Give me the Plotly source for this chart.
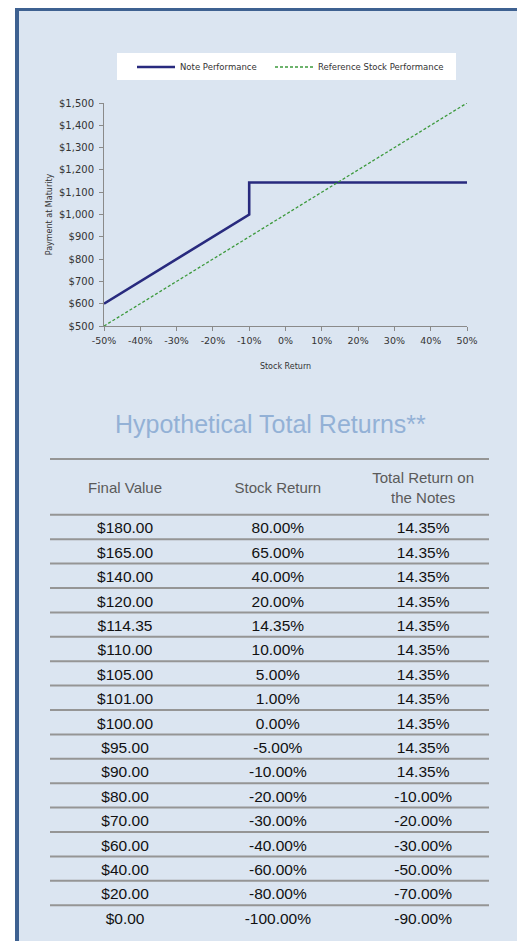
import plotly.graph_objects as go

# ---------------- data ----------------
note_x = [-50, -10, -10, 50]
note_y = [600, 1000, 1143.5, 1143.5]
ref_x = [-50, 50]
ref_y = [500, 1500]

x_tickvals = [-50, -40, -30, -20, -10, 0, 10, 20, 30, 40, 50]
x_ticktext = ["-50%", "-40%", "-30%", "-20%", "-10%", "0%", "10%", "20%", "30%", "40%", "50%"]

col_headers = ["Final Value", "Stock Return", "Total Return on<br>the Notes"]
final_values = ["$180.00", "$165.00", "$140.00", "$120.00", "$114.35", "$110.00", "$105.00",
                "$101.00", "$100.00", "$95.00", "$90.00", "$80.00", "$70.00", "$60.00",
                "$40.00", "$20.00", "$0.00"]
stock_returns = ["80.00%", "65.00%", "40.00%", "20.00%", "14.35%", "10.00%", "5.00%", "1.00%",
                 "0.00%", "-5.00%", "-10.00%", "-20.00%", "-30.00%", "-40.00%", "-60.00%",
                 "-80.00%", "-100.00%"]
note_returns = ["14.35%", "14.35%", "14.35%", "14.35%", "14.35%", "14.35%", "14.35%", "14.35%",
                "14.35%", "14.35%", "14.35%", "-10.00%", "-20.00%", "-30.00%", "-50.00%",
                "-70.00%", "-90.00%"]

# ---------------- layout helpers ----------------
OFF = 8                     # page body margin
W, H = 525 - OFF, 941 - OFF
def px(x):
    return (x - OFF) / W
def py(y):
    return 1 - (y - OFF) / H

PITCH = 24.4
ROW0 = 527.0
def ypix_to_row(y):
    return (y - ROW0) / PITCH
TXT_SHIFT = 2.5 / PITCH     # scatter text sits slightly high

tbl_top_row = -3.0
tbl_bot_row = 16.5
col_pos = [0.171, 0.519, 0.850]

CHART_FONT = "DejaVu Sans"
TABLE_FONT = "Liberation Sans, Arial"

fig = go.Figure()

fig.add_trace(go.Scatter(x=note_x, y=note_y, mode="lines", name="Note Performance",
                         line=dict(color="#282a7e", width=2.6), hoverinfo="skip", legend="legend"))
fig.add_trace(go.Scatter(x=ref_x, y=ref_y, mode="lines", name="Reference Stock Performance",
                         line=dict(color="#3d9a3d", width=1.3, dash="3px,2px"), hoverinfo="skip",
                         legend="legend2"))

# table text
rows = list(range(len(final_values)))
for ci, vals in enumerate([final_values, stock_returns, note_returns]):
    fig.add_trace(go.Scatter(x=[col_pos[ci]] * len(vals), y=[r + TXT_SHIFT for r in rows],
                             mode="text", text=vals, textposition="middle center",
                             textfont=dict(family=TABLE_FONT, size=15.5, color="#111111"),
                             xaxis="x2", yaxis="y2", showlegend=False, hoverinfo="skip"))
hdr_row = ypix_to_row(487) + TXT_SHIFT
fig.add_trace(go.Scatter(x=col_pos, y=[hdr_row] * 3, mode="text", text=col_headers,
                         textposition="middle center",
                         textfont=dict(family=TABLE_FONT, size=15, color="#5a5a5a"),
                         xaxis="x2", yaxis="y2", showlegend=False, hoverinfo="skip"))

shapes = []
# panel
shapes.append(dict(type="rect", xref="paper", yref="paper", x0=px(17), x1=px(521), y0=py(952), y1=py(9),
                   line=dict(color="#3e6191", width=4), fillcolor="#dbe5f1", layer="below"))
# legend box
shapes.append(dict(type="rect", xref="paper", yref="paper", x0=px(117), x1=px(456), y0=py(80), y1=py(53),
                   line=dict(width=0), fillcolor="#ffffff", layer="below"))
# table rules
rule_rows = [ypix_to_row(459), -0.5] + [r + 0.5 for r in rows[:-1]]
for rr in rule_rows:
    shapes.append(dict(type="line", xref="x2", yref="y2", x0=0, x1=1, y0=rr, y1=rr,
                       line=dict(color="#959595", width=2)))

legend_common = dict(orientation="h", yanchor="middle", xanchor="left", y=py(67),
                     bgcolor="rgba(0,0,0,0)", itemwidth=38,
                     font=dict(family=CHART_FONT, size=8.5, color="#333333"))

fig.update_layout(
    width=W, height=H,
    margin=dict(l=0, r=0, t=0, b=0, autoexpand=False),
    paper_bgcolor="#ffffff",
    plot_bgcolor="rgba(0,0,0,0)",
    shapes=shapes,
    showlegend=True,
    legend=dict(x=px(132), **legend_common),
    legend2=dict(x=px(270), **legend_common),
    xaxis=dict(domain=[px(104), px(467)], range=[-50, 50], tickvals=x_tickvals, ticktext=x_ticktext,
               showgrid=False, zeroline=False, showline=True, linecolor="#8a8a8a", linewidth=1,
               ticks="outside", ticklen=4, tickcolor="#8a8a8a", ticklabelstandoff=2,
               tickfont=dict(family=CHART_FONT, size=9.5, color="#333333"),
               title=dict(text="Stock Return", font=dict(family=CHART_FONT, size=8, color="#333333"), standoff=17),
               anchor="y"),
    yaxis=dict(domain=[py(326), py(103)], range=[500, 1500], dtick=100, tickprefix="$", tickformat=",d",
               showgrid=False, zeroline=False, showline=True, linecolor="#8a8a8a", linewidth=1,
               ticks="outside", ticklen=4, tickcolor="#8a8a8a", ticklabelstandoff=3,
               tickfont=dict(family=CHART_FONT, size=10, color="#333333"),
               title=dict(text="Payment at Maturity", font=dict(family=CHART_FONT, size=8, color="#333333"), standoff=5),
               anchor="x"),
    xaxis2=dict(domain=[px(50), px(489)], range=[0, 1], visible=False, anchor="y2"),
    yaxis2=dict(domain=[py(ROW0 + tbl_bot_row * PITCH), py(ROW0 + tbl_top_row * PITCH)],
                range=[tbl_bot_row, tbl_top_row], visible=False, anchor="x2"),
    annotations=[dict(text="Hypothetical Total Returns**", xref="paper", yref="paper",
                      x=px(270), y=py(424), xanchor="center", yanchor="middle", showarrow=False,
                      font=dict(family=TABLE_FONT, size=25, color="#93b1d6"))],
)

fig.write_html("out.html")
